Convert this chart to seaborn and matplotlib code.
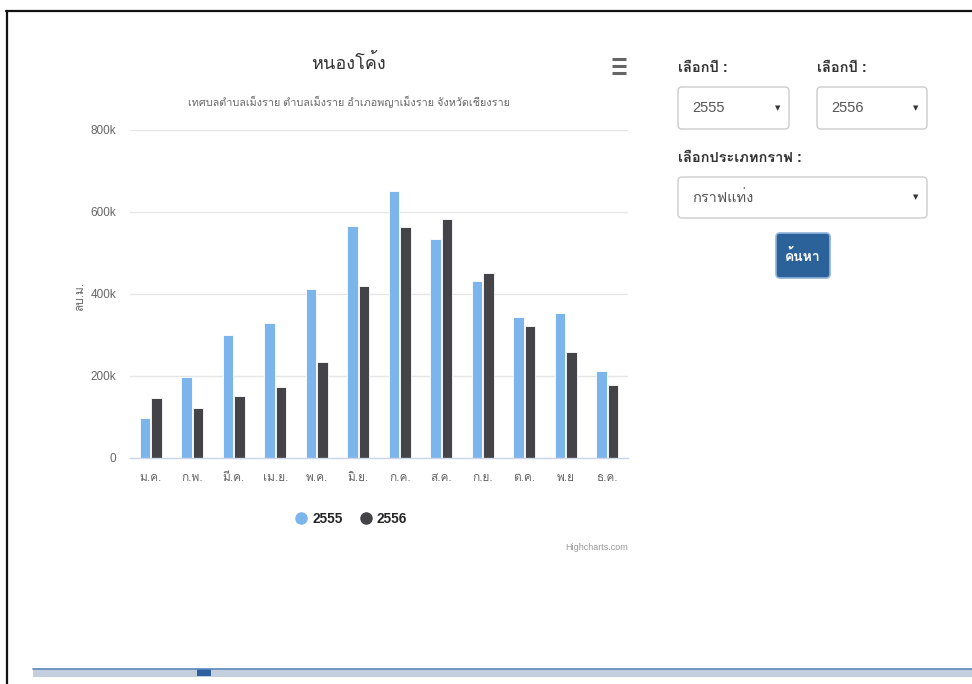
import matplotlib
matplotlib.use("Agg")
import matplotlib.pyplot as plt
import pandas as pd
import seaborn as sns
from matplotlib import font_manager
from matplotlib.lines import Line2D
from matplotlib.patches import FancyBboxPatch, Rectangle

# monthly volume (m3)
months = ['ม.ค.', 'ก.พ.', 'มี.ค.', 'เม.ย.', 'พ.ค.', 'มิ.ย.',
          'ก.ค.', 'ส.ค.', 'ก.ย.', 'ต.ค.', 'พ.ย', 'ธ.ค.']
years = ['2555', '2556']
vol_2555 = [97000, 198000, 299000, 330000, 412000, 566000,
            652000, 534000, 432000, 343000, 353000, 212000]
vol_2556 = [147000, 121000, 151000, 173000, 235000, 419000,
            564000, 582000, 451000, 323000, 259000, 177000]
y_ticks = [0, 200000, 400000, 600000, 800000]
y_tick_labels = ['0', '200k', '400k', '600k', '800k']

BLUE = '#7cb5ec'
DARK = '#434348'


def find_thai_family():
    # look for any installed font that has Thai glyphs
    try:
        from fontTools.ttLib import TTFont
    except ImportError:
        return None
    for f in font_manager.fontManager.ttflist:
        try:
            tt = TTFont(f.fname, fontNumber=0, lazy=True)
            cmap = tt.getBestCmap()
            if cmap and 0x0E2B in cmap and 0x0E49 in cmap:
                return f.name
        except Exception:
            continue
    return None


sns.set_style("white")
thai = find_thai_family()
FAMILY = ['Liberation Sans'] + ([thai] if thai else []) + ['DejaVu Sans']
plt.rcParams['font.family'] = FAMILY

df = pd.DataFrame({
    'month': months * 2,
    'value': vol_2555 + vol_2556,
    'year': [years[0]] * len(months) + [years[1]] * len(months),
})

W, H = 972, 684
fig = plt.figure(figsize=(W / 100, H / 100), dpi=100)

# overlay in pixel coords for the page furniture
ui = fig.add_axes([0, 0, 1, 1], zorder=0)
ui.set_xlim(0, W)
ui.set_ylim(H, 0)
ui.axis('off')

ax = fig.add_axes([130 / W, 1 - 458 / H, 498 / W, 328 / H], zorder=1)
ax.patch.set_alpha(0)

sns.barplot(data=df, x='month', y='value', hue='year', palette=[BLUE, DARK],
            saturation=1, width=0.57, gap=0.12, edgecolor='white',
            linewidth=0.6, legend=False, ax=ax)

ax.set_xlim(-0.5, len(months) - 0.5)
ax.set_ylim(0, 800000)
ax.set_yticks(y_ticks)
ax.set_yticklabels(y_tick_labels)
ax.yaxis.grid(True, color='#e6e6e6', linewidth=1)
ax.set_axisbelow(True)
for s in ['top', 'right', 'left']:
    ax.spines[s].set_visible(False)
ax.spines['bottom'].set_color('#ccd6eb')
ax.spines['bottom'].set_linewidth(1)
ax.set_xlabel('')
ax.set_ylabel('')
ax.tick_params(axis='y', length=0, pad=10, labelsize=8.5, labelcolor='#666666')
ax.tick_params(axis='x', which='major', length=0, pad=10, labelsize=8.5,
               labelcolor='#666666')
ax.set_xticks([i - 0.5 for i in range(len(months) + 1)], minor=True)
ax.tick_params(axis='x', which='minor', length=7, width=1, color='#ccd6eb',
               direction='out')

# titles
fig.text(348 / W, 1 - 63 / H, 'หนองโค้ง', ha='center', va='center',
         fontsize=13, color='#333333')
fig.text(349 / W, 1 - 102 / H,
         'เทศบลตำบลเม็งราย ตำบลเม็งราย อำเภอพญาเม็งราย จังหวัดเชียงราย',
         ha='center', va='center', fontsize=7.8, color='#666666')
fig.text(80 / W, 1 - 296 / H, 'ลบ.ม.', ha='center', va='center',
         rotation=90, fontsize=8.5, color='#666666')
fig.text(628 / W, 1 - 548 / H, 'Highcharts.com', ha='right', va='center',
         fontsize=6.5, color='#999999')

# menu icon
for yy in (59, 66, 73):
    ui.add_line(Line2D([612, 626], [yy, yy], color='#666666', lw=2.2,
                       solid_capstyle='butt'))

# legend
handles = [Line2D([], [], marker='o', ls='', color=c, markersize=8)
           for c in (BLUE, DARK)]
ax.legend(handles, years, loc='center', bbox_to_anchor=(350 / W, 1 - 519 / H),
          bbox_transform=fig.transFigure, ncol=2, frameon=False,
          handletextpad=0.2, columnspacing=1.1, handlelength=1.2,
          prop={'weight': 'bold', 'size': 9.8})

# right-hand form
def select_box(x, y, w, h, label):
    ui.add_patch(FancyBboxPatch((x, y), w, h,
                                boxstyle='round,pad=0,rounding_size=4',
                                fc='white', ec='#cccccc', lw=1))
    ui.text(x + 14, y + h / 2, label, ha='left', va='center', fontsize=10.5,
            color='#555555')
    ui.text(x + w - 11, y + h / 2, '▼', ha='center', va='center', fontsize=5,
            color='#333333', family='DejaVu Sans')


ui.text(678, 68, 'เลือกปี :', ha='left', va='center', fontsize=10.5,
        fontweight='bold', color='#333333')
ui.text(817, 68, 'เลือกปี :', ha='left', va='center', fontsize=10.5,
        fontweight='bold', color='#333333')
select_box(678, 87, 111, 42, '2555')
select_box(817, 87, 110, 42, '2556')
ui.text(678, 158, 'เลือกประเภทกราฟ :', ha='left', va='center', fontsize=10.5,
        fontweight='bold', color='#333333')
select_box(678, 177, 249, 41, 'กราฟแท่ง')

ui.add_patch(FancyBboxPatch((776, 233), 54, 45,
                            boxstyle='round,pad=0,rounding_size=4',
                            fc='#2b6299', ec='#8fb4dc', lw=1.2))
ui.text(803, 256, 'ค้นหา', ha='center', va='center', fontsize=10,
        fontweight='bold', color='white')

# screenshot frame and bottom strip
ui.add_line(Line2D([6, W], [11, 11], color='#111111', lw=1.6))
ui.add_line(Line2D([7, 7], [11, H], color='#111111', lw=1.6))
ui.add_patch(Rectangle((33, 669), W - 33, 8, fc='#c3cfdd', ec='none'))
ui.add_line(Line2D([33, W], [669, 669], color='#5b86bd', lw=1.2))
ui.add_patch(Rectangle((197, 669), 14, 7, fc='#2f5f9f', ec='none'))

fig.savefig('out.png', dpi=100)
